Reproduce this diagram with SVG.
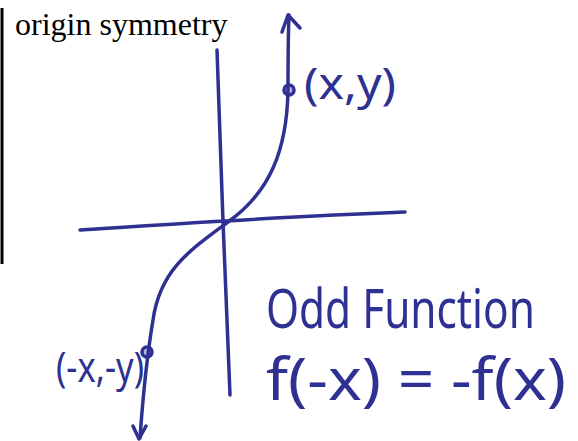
<svg xmlns="http://www.w3.org/2000/svg" width="578" height="441" viewBox="0 0 578 441">
<style>
.ink{fill:none;stroke:#2e3192;stroke-width:3.5;stroke-linecap:round;stroke-linejoin:round}
.dot{fill:#2e3192;fill-opacity:0.35;stroke:#2e3192;stroke-width:3.5}
.hand{fill:#2e3192;font-family:"Noto Sans","DejaVu Sans",sans-serif;font-weight:400}
.title{fill:#000;font-family:"Liberation Serif","Times New Roman",serif;font-size:32px}
</style>
<rect width="578" height="441" fill="#fff"/>
<line x1="2" y1="8" x2="2" y2="264" stroke="#000" stroke-width="3"/>
<text class="title" x="15" y="35">origin symmetry</text>
<g id="axes">
<path class="ink" d="M217,50 C220,150 226,300 230,395"/>
<path class="ink" d="M80,230 C200,222 300,216 405,212"/>
</g>
<g id="curve">
<path class="ink" d="M289,15 C288,40 288,70 288,90 C287,150 270,192 228,222 C190,250 160,270 153,320 C148,350 143,395 140,438"/>
<path class="ink" d="M282,32 L288,15 L300,28"/>
<path class="ink" d="M133,426 L139,439 L146,426"/>
<circle class="dot" cx="289" cy="90" r="5"/>
<circle class="dot" cx="147" cy="352" r="5"/>
</g>
<g id="labels">
<text class="hand" x="304" y="99" font-size="44" textLength="92" lengthAdjust="spacingAndGlyphs">(x,y)</text>
<text class="hand" x="56" y="382" font-size="42" textLength="88" lengthAdjust="spacingAndGlyphs">(-x,-y)</text>
<text class="hand" transform="translate(266,328) scale(0.77,1)" x="0" y="0" font-size="55">Odd Function</text>
<text class="hand" x="266" y="400" font-size="58" textLength="300" lengthAdjust="spacingAndGlyphs">f(-x) = -f(x)</text>
</g>
</svg>
